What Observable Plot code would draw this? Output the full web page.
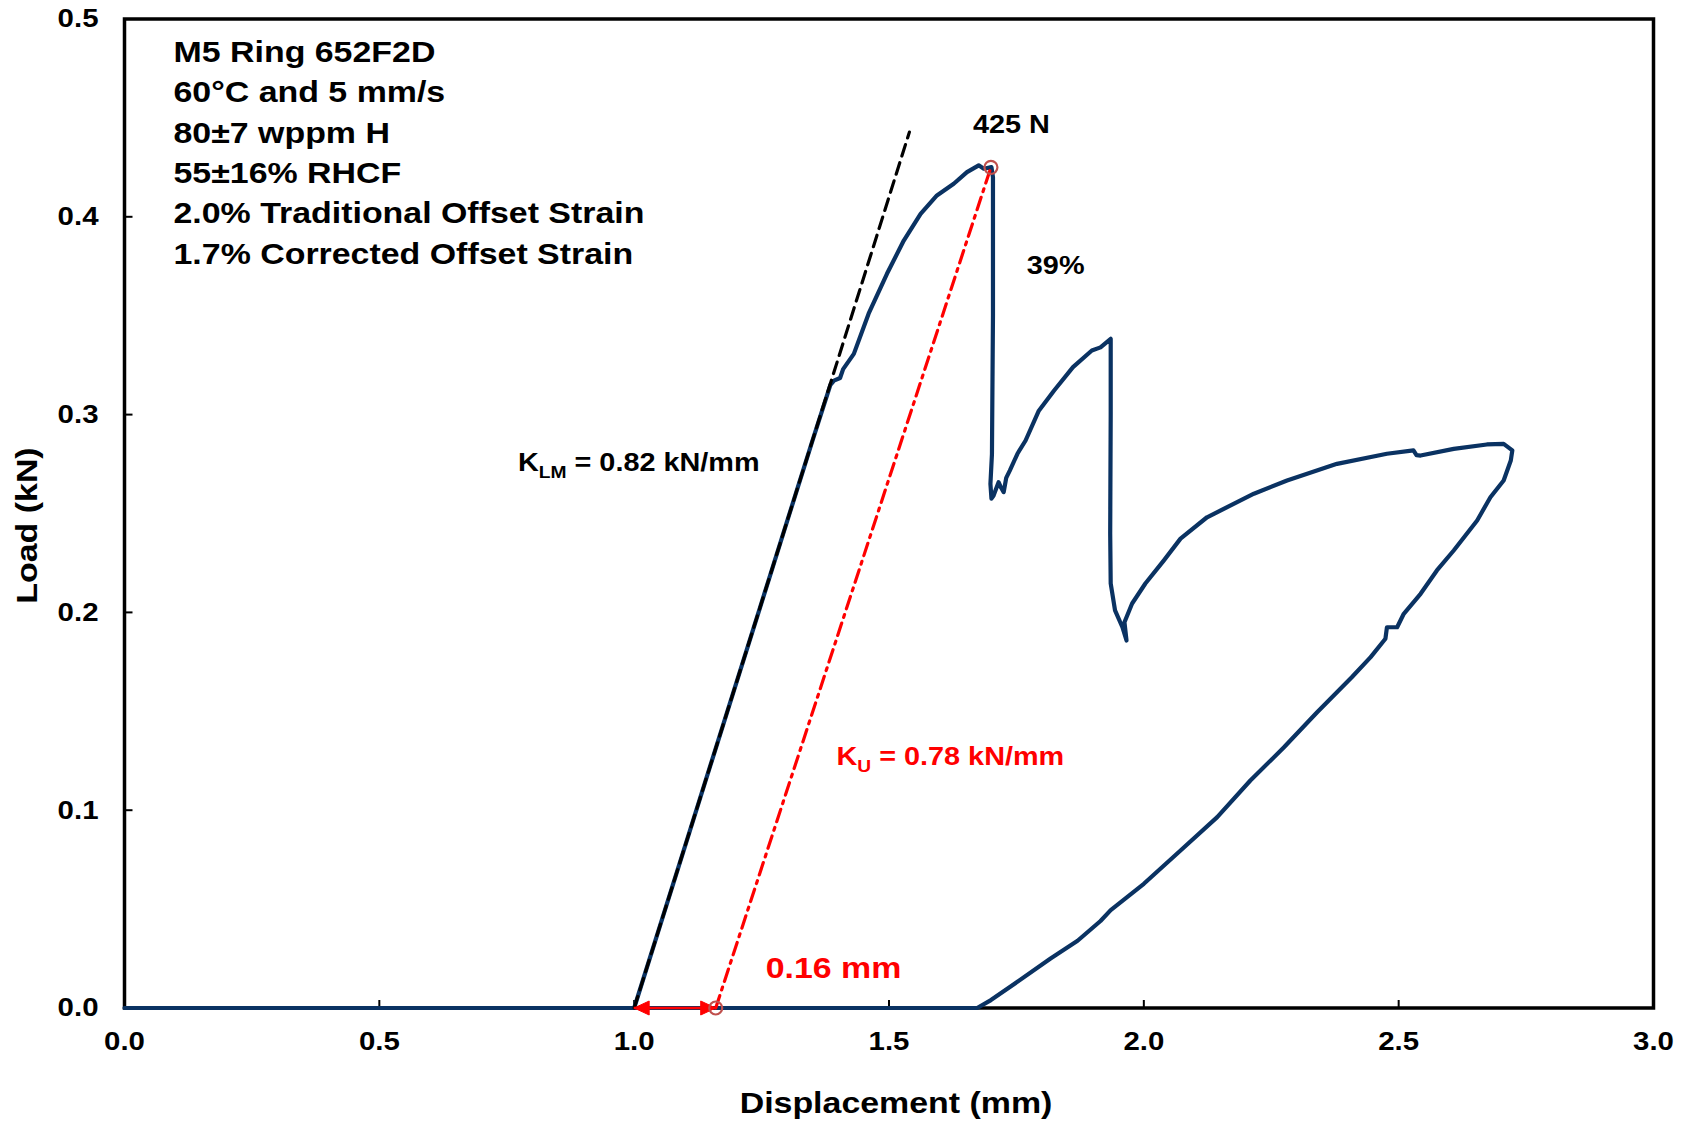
<!DOCTYPE html>
<html>
<head>
<meta charset="utf-8">
<script src="https://cdn.jsdelivr.net/npm/d3@7"></script>
<script src="https://cdn.jsdelivr.net/npm/@observablehq/plot@0.6"></script>
<style>
  body { margin: 0; background: #ffffff; }
  #chart svg { font-family: "Liberation Sans", Arial, sans-serif; }
</style>
</head>
<body>
<div id="chart"></div>
<script>
// ---------- data ----------
const xTicks = [0, 0.5, 1.0, 1.5, 2.0, 2.5, 3.0];
const yTicks = [0, 0.1, 0.2, 0.3, 0.4, 0.5];

// load–displacement record (mm, kN)
const curveX = [
  0, 0.5, 1.0,
  1.05, 1.10, 1.15, 1.20, 1.25, 1.30, 1.35, 1.385, 1.392, 1.404, 1.41, 1.431, 1.46, 1.496, 1.529, 1.562, 1.594, 1.627, 1.653, 1.676, 1.686, 1.701,
  1.704, 1.704, 1.702, 1.699, 1.701, 1.705, 1.715, 1.72, 1.725, 1.73, 1.737, 1.752, 1.768, 1.794, 1.824, 1.861, 1.898, 1.915, 1.935,
  1.935, 1.934, 1.935, 1.9435, 1.958, 1.966, 1.962, 1.977, 2.003, 2.039, 2.072, 2.124, 2.216, 2.281, 2.379, 2.477, 2.529, 2.535, 2.543, 2.608, 2.673, 2.706, 2.723,
  2.72, 2.706, 2.68, 2.654, 2.608, 2.575, 2.543, 2.51, 2.497, 2.477, 2.474, 2.445, 2.408, 2.34, 2.275, 2.209, 2.144, 2.072, 2.0, 1.935, 1.915, 1.87, 1.817, 1.745, 1.70, 1.673, 1.0
];
const curveY = [
  0, 0, 0,
  0.041, 0.082, 0.123, 0.164, 0.205, 0.246, 0.287, 0.315, 0.3172, 0.3185, 0.323, 0.3307, 0.351, 0.3712, 0.388, 0.4015, 0.4108, 0.4167, 0.4226, 0.426, 0.4243, 0.4251,
  0.42, 0.35, 0.28, 0.265, 0.2575, 0.259, 0.2658, 0.263, 0.2608, 0.268, 0.2717, 0.2802, 0.2869, 0.302, 0.3122, 0.324, 0.3324, 0.334, 0.3383,
  0.30, 0.24, 0.2146, 0.201, 0.1925, 0.1858, 0.195, 0.2045, 0.2146, 0.2262, 0.2373, 0.2481, 0.26, 0.2667, 0.2751, 0.2802, 0.2819, 0.2795, 0.2793, 0.2827, 0.2849, 0.2852, 0.2819,
  0.2768, 0.2667, 0.2582, 0.2465, 0.2313, 0.2212, 0.2094, 0.1993, 0.1925, 0.1925, 0.1867, 0.1774, 0.1672, 0.1495, 0.1318, 0.115, 0.0965, 0.0796, 0.0628, 0.0495, 0.044, 0.034, 0.025, 0.012, 0.004, 0, 0
];

// linear-modulus tangent (K_LM) and ultimate secant (K_U) lines
const kLmX = [1.0, 1.54];
const kLmY = [0, 0.4428];
const kUX = [1.16, 1.70];
const kUY = [0, 0.425];

// marked points: ultimate load and offset intercept
const markX = [1.70, 1.16];
const markY = [0.425, 0];

// offset arrow (0.16 mm)
const offsetStart = [1.0];
const offsetEnd = [1.16];

const infoLines = [
  "M5 Ring 652F2D",
  "60°C and 5 mm/s",
  "80±7 wppm H",
  "55±16% RHCF",
  "2.0% Traditional Offset Strain",
  "1.7% Corrected Offset Strain"
];

const annotText = ["425 N", "39%", "K_LM = 0.82 kN/mm", "K_U = 0.78 kN/mm", "0.16 mm"];
const annotX = [1.740, 1.827, 0.772, 1.397, 1.258];
const annotY = [0.4464, 0.3752, 0.2755, 0.1268, 0.0198];

const xLabel = "Displacement (mm)";
const yLabel = "Load (kN)";

// ---------- derived tables ----------
const curve = curveX.map((x, i) => ({x, y: curveY[i]}));
const kLm = kLmX.map((x, i) => ({x, y: kLmY[i]}));
const kU = kUX.map((x, i) => ({x, y: kUY[i]}));
const marks = markX.map((x, i) => ({x, y: markY[i]}));
const annots = annotText.map((t, i) => ({t, x: annotX[i], y: annotY[i]}));
const arrow = offsetStart.map((s, i) => ({x1: s, x2: offsetEnd[i], y: 0}));

// ---------- custom symbols ----------
const tickUp = {draw(ctx) { ctx.moveTo(0, 0); ctx.lineTo(0, -8); }};
const tickRight = {draw(ctx) { ctx.moveTo(0, 0); ctx.lineTo(8, 0); }};
const headRight = {draw(ctx) { ctx.moveTo(0, 0); ctx.lineTo(-15, -7); ctx.lineTo(-15, 7); ctx.closePath(); }};
const headLeft = {draw(ctx) { ctx.moveTo(0, 0); ctx.lineTo(15, -7); ctx.lineTo(15, 7); ctx.closePath(); }};

const navy = "#0a3262";
const red = "#ff0000";
const markerStroke = "#c0504d";
const bold = "bold";

const plot = Plot.plot({
  width: 1690,
  height: 1126,
  marginLeft: 124,
  marginRight: 37,
  marginTop: 18.5,
  marginBottom: 118.5,
  x: {domain: [0, 3]},
  y: {domain: [0, 0.5]},
  style: {background: "#ffffff", fontFamily: "'Liberation Sans', Arial, sans-serif", color: "black"},
  marks: [
    Plot.frame({stroke: "black", strokeWidth: 3.5}),
    Plot.dot(xTicks, {x: d => d, y: 0, symbol: tickUp, stroke: "black", fill: "none", strokeWidth: 2}),
    Plot.dot(yTicks, {x: 0, y: d => d, symbol: tickRight, stroke: "black", fill: "none", strokeWidth: 2}),
    Plot.axisX(xTicks, {tickSize: 0, tickPadding: 24, fontSize: 26, fontWeight: bold, tickFormat: d3.format(".1f"), label: null}),
    Plot.axisY(yTicks, {tickSize: 0, tickPadding: 26, fontSize: 26, fontWeight: bold, tickFormat: d3.format(".1f"), label: null}),
    Plot.line(curve, {x: "x", y: "y", stroke: navy, strokeWidth: 4.2, strokeLinejoin: "round", strokeLinecap: "round"}),
    Plot.line(kLm, {x: "x", y: "y", stroke: "black", strokeWidth: 3.2, strokeDasharray: "12,7"}),
    Plot.line(kU, {x: "x", y: "y", stroke: red, strokeWidth: 3.2, strokeDasharray: "13,6,3,6"}),
    Plot.ruleY(arrow, {x1: "x1", x2: "x2", y: "y", stroke: red, strokeWidth: 2.5}),
    Plot.dot(arrow, {x: "x1", y: "y", symbol: headLeft, fill: red, stroke: red, strokeWidth: 1}),
    Plot.dot(arrow, {x: "x2", y: "y", symbol: headRight, fill: red, stroke: red, strokeWidth: 1}),
    Plot.dot(marks, {x: "x", y: "y", r: 6.5, stroke: markerStroke, fill: "none", strokeWidth: 2.2}),
    Plot.text([infoLines.join("\n")], {frameAnchor: "top-left", dx: 49, dy: 14, lineAnchor: "top", lineHeight: 1.347, textAnchor: "start", fontSize: 30, fontWeight: bold, fill: "black"}),
    Plot.text(annots.slice(0, 2), {x: "x", y: "y", text: "t", textAnchor: "middle", fontSize: 25.5, fontWeight: bold, fill: "black"}),
    Plot.text(annots.slice(2, 3), {x: "x", y: "y", text: "t", textAnchor: "start", fontSize: 25.5, fontWeight: bold, fill: "black"}),
    Plot.text(annots.slice(3, 4), {x: "x", y: "y", text: "t", textAnchor: "start", fontSize: 25.5, fontWeight: bold, fill: red}),
    Plot.text(annots.slice(4, 5), {x: "x", y: "y", text: "t", textAnchor: "start", fontSize: 30, fontWeight: bold, fill: red}),
    Plot.text([xLabel], {frameAnchor: "bottom", dx: 7, dy: 95, textAnchor: "middle", lineAnchor: "middle", fontSize: 30, fontWeight: bold, fill: "black"}),
    Plot.text([yLabel], {frameAnchor: "left", dx: -97, dy: 12, rotate: -90, textAnchor: "middle", lineAnchor: "middle", fontSize: 30, fontWeight: bold, fill: "black"})
  ]
});

document.getElementById("chart").append(plot);

// subscripts for K_LM and K_U
const NS = "http://www.w3.org/2000/svg";
plot.querySelectorAll("text").forEach(t => {
  const m = t.textContent.match(/^K_(\w+)( = .*)$/);
  if (!m) return;
  t.textContent = "";
  const a = document.createElementNS(NS, "tspan"); a.textContent = "K";
  const b = document.createElementNS(NS, "tspan"); b.textContent = m[1];
  b.setAttribute("font-size", "17"); b.setAttribute("dy", "7");
  const c = document.createElementNS(NS, "tspan"); c.textContent = m[2];
  c.setAttribute("dy", "-7");
  t.append(a, b, c);
});

// the reference typeface is wider than Arial: stretch text horizontally
const STRETCH = 1.13;
plot.querySelectorAll("text").forEach(t => {
  const lines = [...t.children].filter(c => c.tagName === "tspan" && c.hasAttribute("x"));
  const targets = lines.length ? lines : [t];
  targets.forEach(el => {
    const L = el.getComputedTextLength();
    if (L > 0) {
      el.setAttribute("textLength", (L * STRETCH).toFixed(1));
      el.setAttribute("lengthAdjust", "spacingAndGlyphs");
    }
  });
});
</script>
</body>
</html>
